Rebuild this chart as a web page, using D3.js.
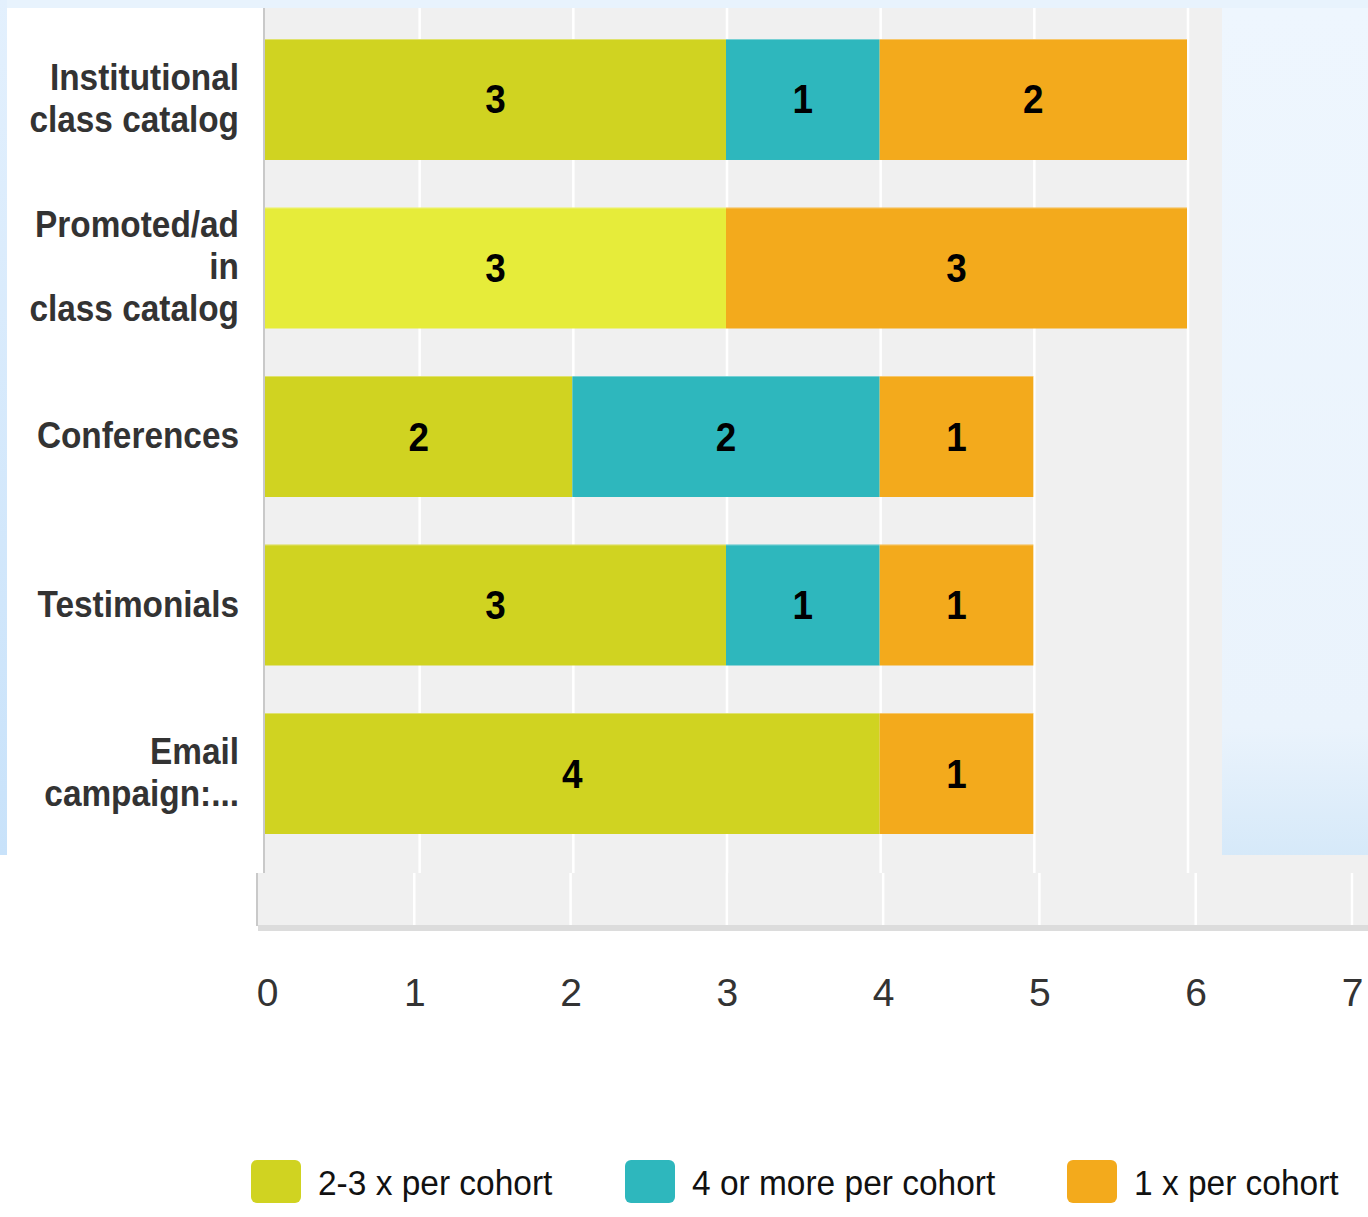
<!DOCTYPE html>
<html>
<head>
<meta charset="utf-8">
<script src="https://cdn.jsdelivr.net/npm/d3@7/dist/d3.min.js"></script>
<style>
  html, body { margin: 0; padding: 0; background: #ffffff; }
  svg { display: block; }
  text { font-family: "Liberation Sans", Arial, sans-serif; }
</style>
</head>
<body>
<svg id="chart" width="1368" height="1217"></svg>
<script>
// ---- data ----
const categories = ["Institutional class catalog", "Promoted/ad in class catalog", "Conferences", "Testimonials", "Email campaign:..."];
const categoryLines = [["Institutional", "class catalog"], ["Promoted/ad", "in", "class catalog"], ["Conferences"], ["Testimonials"], ["Email", "campaign:..."]];
const seriesNames = ["2-3 x per cohort", "4 or more per cohort", "1 x per cohort"];
const twoThreePerCohort = [3, 3, 2, 3, 4];
const fourOrMorePerCohort = [1, 0, 2, 1, 0];
const oncePerCohort = [2, 3, 1, 1, 1];
const gridTicks = [0, 1, 2, 3, 4, 5, 6];
const axisTicks = [0, 1, 2, 3, 4, 5, 6, 7];
const highlighted = { series: 0, category: 1 };

const colors = ["#d0d321", "#2eb7bd", "#f3aa1c"];
const highlightColor = "#e6ec3a";

const svg = d3.select("#chart");

// ---- background (slide) ----
const defs = svg.append("defs");
const gRight = defs.append("linearGradient").attr("id", "rightBg").attr("x1", 0).attr("y1", 0).attr("x2", 0).attr("y2", 1);
gRight.append("stop").attr("offset", "0%").attr("stop-color", "#eef6fe");
gRight.append("stop").attr("offset", "85%").attr("stop-color", "#eaf3fc");
gRight.append("stop").attr("offset", "100%").attr("stop-color", "#d6e9f9");
const gLeft = defs.append("linearGradient").attr("id", "leftBg").attr("x1", 0).attr("y1", 0).attr("x2", 0).attr("y2", 1);
gLeft.append("stop").attr("offset", "0%").attr("stop-color", "#e3f0fd");
gLeft.append("stop").attr("offset", "100%").attr("stop-color", "#c8e2fa");

svg.append("rect").attr("x", 0).attr("y", 0).attr("width", 1368).attr("height", 8).attr("fill", "#e8f3fd");
svg.append("rect").attr("x", 0).attr("y", 0).attr("width", 7).attr("height", 855).attr("fill", "url(#leftBg)");
svg.append("rect").attr("x", 7).attr("y", 8).attr("width", 258).attr("height", 847).attr("fill", "#ffffff");

// ---- lower axis panel (different zoom level) ----
const xLow = d3.scaleLinear().domain([0, 7]).range([258, 1352]);
svg.append("rect").attr("x", 256).attr("y", 855).attr("width", 1112).attr("height", 70).attr("fill", "#f0f0f0");
svg.append("rect").attr("x", 0).attr("y", 855).attr("width", 265).attr("height", 18).attr("fill", "#ffffff");
svg.append("g").selectAll("line").data(axisTicks.slice(1)).join("line")
  .attr("x1", d => xLow(d)).attr("x2", d => xLow(d))
  .attr("y1", 873).attr("y2", 925)
  .attr("stroke", "#ffffff").attr("stroke-width", 2.5);
svg.append("line").attr("x1", 257).attr("x2", 257).attr("y1", 873).attr("y2", 926)
  .attr("stroke", "#c9c9c9").attr("stroke-width", 2);
svg.append("rect").attr("x", 258).attr("y", 925).attr("width", 1110).attr("height", 6).attr("fill", "#dcdcdc");

const axis = d3.axisBottom(xLow).tickValues(axisTicks).tickSize(0).tickPadding(0).tickFormat(d3.format("d"));
const axG = svg.append("g").attr("transform", "translate(0,1006)").call(axis);
axG.select(".domain").remove();
axG.selectAll("text")
  .attr("dy", 0).attr("y", 0)
  .attr("font-size", 39).attr("fill", "#333333")
  .attr("font-family", "'Liberation Sans', Arial, sans-serif")
  .attr("x", d => (d === 0 ? 9 : 0))
  .attr("text-anchor", d => (d === 7 ? "end" : "middle"))
  .attr("dx", d => (d === 7 ? 11 : 0));

// ---- upper plot ----
const x = d3.scaleLinear().domain([0, 6]).range([265, 1187]);
const y = d3.scaleBand().domain(categories).range([8, 865]).paddingInner(0.282).paddingOuter(0.184);

svg.append("rect").attr("x", 265).attr("y", 8).attr("width", 957).attr("height", 865).attr("fill", "#f0f0f0");
svg.append("rect").attr("x", 1222).attr("y", 8).attr("width", 146).attr("height", 847).attr("fill", "url(#rightBg)");

svg.append("g").selectAll("line").data(gridTicks.slice(1)).join("line")
  .attr("x1", d => x(d) + 1).attr("x2", d => x(d) + 1)
  .attr("y1", 8).attr("y2", 873)
  .attr("stroke", "#ffffff").attr("stroke-width", 2.5);
svg.append("line").attr("x1", 264).attr("x2", 264).attr("y1", 8).attr("y2", 873)
  .attr("stroke", "#c9c9c9").attr("stroke-width", 2);

// stacked bars
const rows = categories.map((c, i) => ({ cat: c, vals: [twoThreePerCohort[i], fourOrMorePerCohort[i], oncePerCohort[i]] }));
const segs = [];
rows.forEach((r, i) => {
  let acc = 0;
  r.vals.forEach((v, s) => {
    if (v > 0) segs.push({ cat: r.cat, ci: i, s, v, x0: acc, x1: acc + v });
    acc += v;
  });
});

const barG = svg.append("g");
barG.selectAll("rect").data(segs).join("rect")
  .attr("x", d => x(d.x0))
  .attr("y", d => y(d.cat))
  .attr("width", d => x(d.x1) - x(d.x0))
  .attr("height", y.bandwidth())
  .attr("fill", d => (d.s === highlighted.series && d.ci === highlighted.category) ? highlightColor : colors[d.s]);
barG.selectAll("line").data(segs).join("line")
  .attr("x1", d => x(d.x0)).attr("x2", d => x(d.x1))
  .attr("y1", d => y(d.cat) + 0.5).attr("y2", d => y(d.cat) + 0.5)
  .attr("stroke", "#ffffff").attr("stroke-opacity", 0.35).attr("stroke-width", 1);

barG.selectAll("text").data(segs).join("text")
  .attr("transform", d => `translate(${(x(d.x0) + x(d.x1)) / 2},${y(d.cat) + y.bandwidth() / 2 + 14}) scale(0.9,1)`)
  .attr("text-anchor", "middle")
  .attr("font-size", 41).attr("font-weight", "bold").attr("fill", "#000000")
  .text(d => d.v);

// category labels
const lineH = 42;
const labG = svg.append("g");
categories.forEach((c, i) => {
  const lines = categoryLines[i];
  const cy = y(c) + y.bandwidth() / 2;
  const firstBase = cy + 11.5 - (lines.length - 1) * lineH / 2;
  const t = labG.append("text")
    .attr("transform", `translate(239,${firstBase}) scale(0.89,1)`)
    .attr("text-anchor", "end")
    .attr("font-size", 37.5).attr("font-weight", "bold").attr("fill", "#333333");
  lines.forEach((ln, k) => {
    t.append("tspan").attr("x", 0).attr("y", k * lineH).text(ln);
  });
});

// ---- legend ----
const legendX = [251, 625, 1067];
const legG = svg.append("g");
seriesNames.forEach((name, s) => {
  legG.append("rect").attr("x", legendX[s]).attr("y", 1160).attr("width", 50).attr("height", 43)
    .attr("rx", 6).attr("fill", colors[s]);
  legG.append("text")
    .attr("transform", `translate(${legendX[s] + 67},1195) scale(0.93,1)`)
    .attr("font-size", 36).attr("fill", "#111111")
    .text(name);
});
</script>
</body>
</html>
